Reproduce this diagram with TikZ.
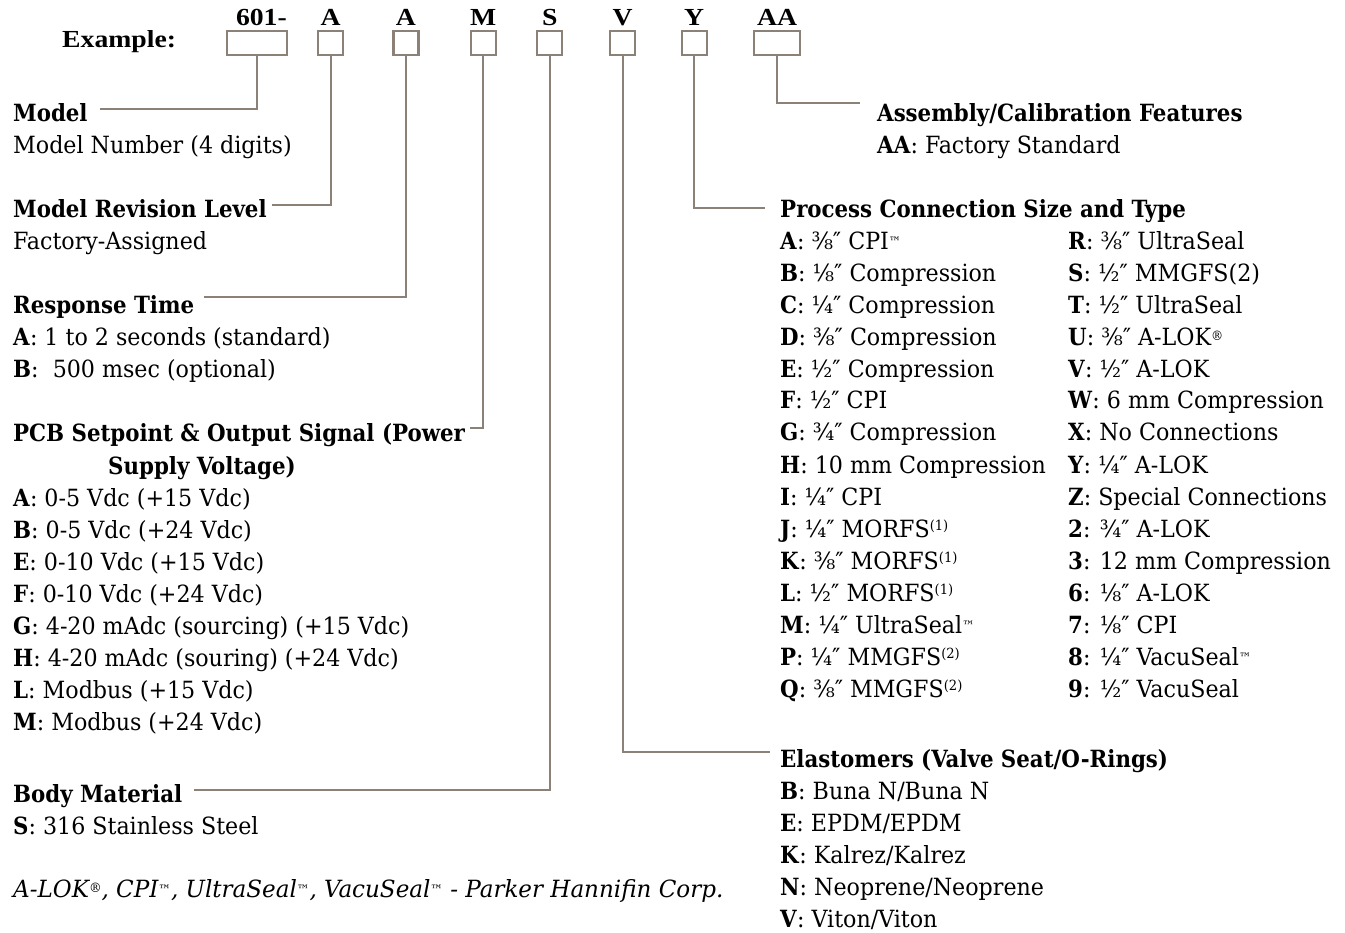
\documentclass[tikz,border=0pt]{standalone}
\usepackage{fontspec}
\setmainfont{DejaVu Serif Condensed}[UprightFeatures={FakeStretch=1.04}, ItalicFeatures={FakeStretch=1.08}]
\newfontfamily\hfont{Liberation Serif}[BoldFeatures={FakeStretch=1.13}]
\definecolor{lc}{RGB}{139,129,118}
\newcommand\tmk{{\fontsize{13}{13}\selectfont\raisebox{3pt}{™}}}
\newcommand\rgk{{\fontsize{13}{13}\selectfont\raisebox{5pt}{®}}}
\newcommand\fnt[1]{{\fontsize{14}{14}\selectfont\raisebox{7pt}{(#1)}}}
\newcommand\dq{″}
\newcommand\K[1]{\textbf{#1}:}
\tikzset{
  lbl/.style={anchor=base west, inner sep=0pt, font=\fontsize{23.7}{32}\selectfont},
  hd/.style={anchor=base west, inner sep=0pt, font=\fontsize{23.7}{32}\selectfont\bfseries},
  code/.style={anchor=base, inner sep=0pt, font=\hfont\bfseries\fontsize{24.5}{24}\selectfont},
  codebox/.style={draw=lc, line width=2.4pt, minimum height=24pt, minimum width=25pt, inner sep=0pt},
  lead/.style={draw=lc, line width=2pt},
}
\begin{document}
\begin{tikzpicture}[x=1pt,y=-1pt]
\useasboundingbox (0,0) rectangle (1345,933);
% header
\node[code, anchor=base west] (ex) at (62,48) {Example:};
\node[code, anchor=base east] (h601) at (287,26) {601-};
\node[code] (hA1) at (330.5,26) {A};
\node[code] (hA2) at (405.8,26) {A};
\node[code] (hM) at (483.3,26) {M};
\node[code] (hS) at (549.7,26) {S};
\node[code] (hV) at (622.5,26) {V};
\node[code] (hY) at (694.2,26) {Y};
\node[code] (hAA) at (777,26) {AA};
\node[codebox, minimum width=60pt] (b601) at (257,43) {};
\node[codebox] (bA1) at (330.5,43) {};
\node[codebox] (bA2) at (405.8,43) {};
\node[codebox] (bM) at (483.3,43) {};
\node[codebox] (bS) at (549.7,43) {};
\node[codebox] (bV) at (622.5,43) {};
\node[codebox] (bY) at (694.2,43) {};
\node[codebox, minimum width=46pt] (bAA) at (777,43) {};
% leaders
\coordinate (c601) at (100,109);
\coordinate (cA1) at (272,205);
\coordinate (cA2) at (204,297);
\coordinate (cM) at (470,428);
\coordinate (cS) at (194,790);
\coordinate (cV) at (770,752);
\coordinate (cY) at (765,208);
\coordinate (cAA) at (860,103);
\draw[lead] (b601.south) |- (c601);
\draw[lead] (bA1.south) |- (cA1);
\draw[lead] (bA2.south) |- (cA2);
\draw[lead] (bM.south) |- (cM);
\draw[lead] (bS.south) |- (cS);
\draw[lead] (bV.south) |- (cV);
\draw[lead] (bY.south) |- (cY);
\draw[lead] (bAA.south) |- (cAA);
% left column
\node[hd] (t1) at (13,122) {Model};
\node[lbl] (t1a) at (13,154) {Model Number (4 digits)};
\node[hd] (t2) at (13,218) {Model Revision Level};
\node[lbl] (t2a) at (13,250) {Factory-Assigned};
\node[hd] (t3) at (13,314) {Response Time};
\node[lbl] (t3a) at (13,346) {\K{A} 1 to 2 seconds (standard)};
\node[lbl] (t3b) at (13,378) {\K{B}\ \ 500 msec (optional)};
\node[hd] (t4) at (13,442) {PCB Setpoint \& Output Signal (Power};
\node[hd] (t4x) at (108,474) {Supply Voltage)};
\node[lbl] (t4a) at (13,506) {\K{A} 0-5 Vdc (+15 Vdc)};
\node[lbl] (t4b) at (13,538) {\K{B} 0-5 Vdc (+24 Vdc)};
\node[lbl] (t4c) at (13,570) {\K{E} 0-10 Vdc (+15 Vdc)};
\node[lbl] (t4d) at (13,602) {\K{F} 0-10 Vdc (+24 Vdc)};
\node[lbl] (t4e) at (13,634) {\K{G} 4-20 mAdc (sourcing) (+15 Vdc)};
\node[lbl] (t4f) at (13,666) {\K{H} 4-20 mAdc (souring) (+24 Vdc)};
\node[lbl] (t4g) at (13,698) {\K{L} Modbus (+15 Vdc)};
\node[lbl] (t4h) at (13,730) {\K{M} Modbus (+24 Vdc)};
\node[hd] (t5) at (13,802) {Body Material};
\node[lbl] (t5a) at (13,834) {\K{S} 316 Stainless Steel};
\node[lbl, font=\fontsize{23.7}{32}\selectfont\itshape] (note) at (13,897) {A-LOK\rgk, CPI\tmk, UltraSeal\tmk, VacuSeal\tmk\ - Parker Hannifin Corp.};
% right column
\node[hd] (t8) at (877,122) {Assembly/Calibration Features};
\node[lbl] (t8a) at (877,154) {\K{AA} Factory Standard};
\node[hd] (t7) at (780,218) {Process Connection Size and Type};
\node[lbl] (pA) at (780,250) {\K{A} ⅜\dq\ CPI\tmk};
\node[lbl] (pB) at (780,282) {\K{B} ⅛\dq\ Compression};
\node[lbl] (pC) at (780,314) {\K{C} ¼\dq\ Compression};
\node[lbl] (pD) at (780,346) {\K{D} ⅜\dq\ Compression};
\node[lbl] (pE) at (780,378) {\K{E} ½\dq\ Compression};
\node[lbl] (pF) at (780,409) {\K{F} ½\dq\ CPI};
\node[lbl] (pG) at (780,441) {\K{G} ¾\dq\ Compression};
\node[lbl] (pH) at (780,473) {\K{H} 10 mm Compression};
\node[lbl] (pI) at (780,505) {\K{I} ¼\dq\ CPI};
\node[lbl] (pJ) at (780,537) {\K{J} ¼\dq\ MORFS\fnt{1}};
\node[lbl] (pK) at (780,569) {\K{K} ⅜\dq\ MORFS\fnt{1}};
\node[lbl] (pL) at (780,601) {\K{L} ½\dq\ MORFS\fnt{1}};
\node[lbl] (pM) at (780,633) {\K{M} ¼\dq\ UltraSeal\tmk};
\node[lbl] (pP) at (780,665) {\K{P} ¼\dq\ MMGFS\fnt{2}};
\node[lbl] (pQ) at (780,697) {\K{Q} ⅜\dq\ MMGFS\fnt{2}};
\node[lbl] (pR) at (1068,250) {\K{R} ⅜\dq\ UltraSeal};
\node[lbl] (pS) at (1068,282) {\K{S} ½\dq\ MMGFS(2)};
\node[lbl] (pT) at (1068,314) {\K{T} ½\dq\ UltraSeal};
\node[lbl] (pU) at (1068,346) {\K{U} ⅜\dq\ A-LOK\rgk};
\node[lbl] (pV) at (1068,378) {\K{V} ½\dq\ A-LOK};
\node[lbl] (pW) at (1068,409) {\K{W} 6 mm Compression};
\node[lbl] (pX) at (1068,441) {\K{X} No Connections};
\node[lbl] (pY) at (1068,473) {\K{Y} ¼\dq\ A-LOK};
\node[lbl] (pZ) at (1068,505) {\K{Z} Special Connections};
\node[lbl] (p2) at (1068,537) {\K{2} ¾\dq\ A-LOK};
\node[lbl] (p3) at (1068,569) {\K{3} 12 mm Compression};
\node[lbl] (p6) at (1068,601) {\K{6} ⅛\dq\ A-LOK};
\node[lbl] (p7) at (1068,633) {\K{7} ⅛\dq\ CPI};
\node[lbl] (p8) at (1068,665) {\K{8} ¼\dq\ VacuSeal\tmk};
\node[lbl] (p9) at (1068,697) {\K{9} ½\dq\ VacuSeal};
\node[hd] (t6) at (780,767) {Elastomers (Valve Seat/O-Rings)};
\node[lbl] (eB) at (780,799) {\K{B} Buna N/Buna N};
\node[lbl] (eE) at (780,831) {\K{E} EPDM/EPDM};
\node[lbl] (eK) at (780,863) {\K{K} Kalrez/Kalrez};
\node[lbl] (eN) at (780,895) {\K{N} Neoprene/Neoprene};
\node[lbl] (eV) at (780,927) {\K{V} Viton/Viton};
\end{tikzpicture}
\end{document}
